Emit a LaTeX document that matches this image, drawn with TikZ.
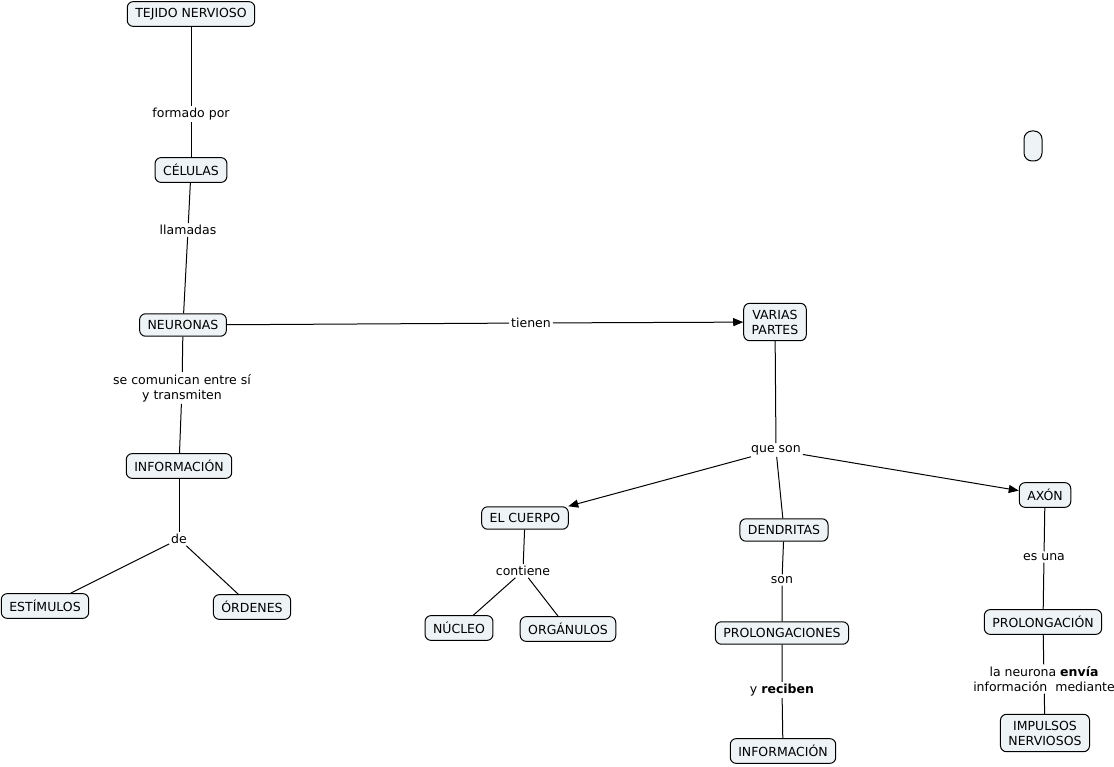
\documentclass[tikz,border=0pt]{standalone}
\usepackage{fontspec}
\setmainfont{DejaVu Sans}
\usetikzlibrary{arrows.meta}
\definecolor{fondo}{HTML}{EEF3F5}
\begin{document}
\begin{tikzpicture}[x=1pt,y=-1pt,>={Triangle[length=10pt,width=8pt]},line width=1pt,
  concepto/.style={draw=black,fill=fondo,rounded corners=6pt,inner xsep=8pt,inner ysep=6.5pt,
    align=center,font=\fontsize{12.5}{15}\selectfont},
  enlace/.style={fill=white,inner sep=1.5pt,align=center,font=\fontsize{12.5}{15}\selectfont}]

\useasboundingbox (0,0) rectangle (1114,767);

%==== conceptos ====
\node[concepto] (tejido)   at (191,14)  {TEJIDO NERVIOSO};
\node[concepto] (celulas)  at (191,170) {CÉLULAS};
\node[concepto] (neuronas) at (183,325) {NEURONAS};
\node[concepto] (info)     at (179,466) {INFORMACIÓN};
\node[concepto] (estimulos) at (45,606) {ESTÍMULOS};
\node[concepto] (ordenes)  at (252,607) {ÓRDENES};
\node[concepto] (partes)   at (775,322) {VARIAS\\PARTES};
\node[concepto,minimum width=18pt,minimum height=30pt,inner sep=0pt,rounded corners=8pt] (vacio) at (1033,146) {};
\node[concepto] (cuerpo)   at (525,518) {EL CUERPO};
\node[concepto] (nucleo)   at (459,628) {NÚCLEO};
\node[concepto] (organulos) at (568,629) {ORGÁNULOS};
\node[concepto] (dendritas) at (784,530) {DENDRITAS};
\node[concepto] (prolongs) at (782,633) {PROLONGACIONES};
\node[concepto] (info2)    at (783,751) {INFORMACIÓN};
\node[concepto] (axon)     at (1045,495) {AXÓN};
\node[concepto] (prolong)  at (1043,622) {PROLONGACIÓN};
\node[concepto] (impulsos) at (1045,733) {IMPULSOS\\NERVIOSOS};

%==== enlaces ====
\node[enlace] (formado)  at (191,114) {formado por};
\node[enlace] (llamadas) at (188,230) {llamadas};
\node[enlace] (tienen)   at (531,323) {tienen};
\node[enlace] (comunican) at (182,388) {se comunican entre sí\\y transmiten};
\node[enlace] (de)       at (179,539) {de};
\node[enlace] (queson)   at (776,450) {que son};
\node[enlace] (contiene) at (523,571) {contiene};
\node[enlace] (son)      at (782,580) {son};
\node[enlace] (reciben)  at (782,690) {y \textbf{reciben}};
\node[enlace] (esuna)    at (1044,557) {es una};
\node[enlace] (envia)    at (1044,679) {la neurona \textbf{envía}\\información\ \ mediante};

%==== conectores ====
\draw (tejido) -- (formado) -- (celulas);
\draw (celulas) -- (llamadas) -- (neuronas);
\draw[->] (neuronas) -- (tienen) -- (partes);
\draw (neuronas) -- (comunican) -- (info);
\draw (info) -- (de);
\draw (de) -- (estimulos);
\draw (de) -- (ordenes);
\draw (partes) -- (queson);
\draw[->] (queson) -- (cuerpo);
\draw (queson) -- (dendritas);
\draw[->] (queson) -- (axon);
\draw (cuerpo) -- (contiene);
\draw (contiene) -- (nucleo);
\draw (contiene) -- (organulos);
\draw (dendritas) -- (son) -- (prolongs);
\draw (prolongs) -- (reciben) -- (info2);
\draw (axon) -- (esuna) -- (prolong);
\draw (prolong) -- (envia) -- (impulsos);

\end{tikzpicture}
\end{document}
